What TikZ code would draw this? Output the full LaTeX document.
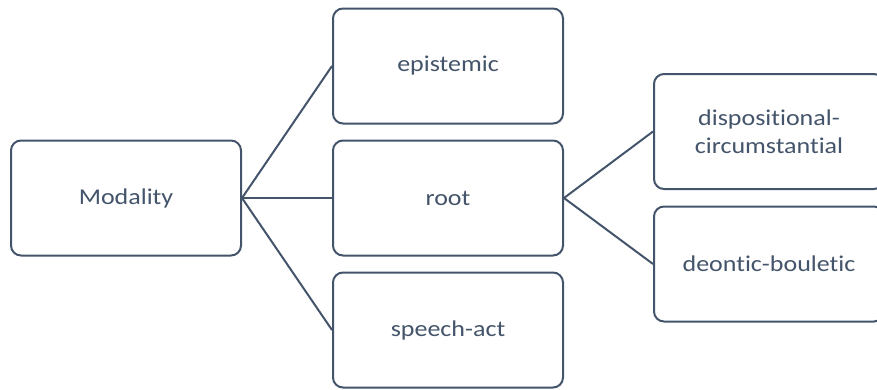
\documentclass[tikz,border=0pt]{standalone}
\usepackage{fontspec}
\setmainfont{Carlito}[FakeStretch=1.15, Ligatures=NoCommon]
\definecolor{slate}{HTML}{44546A}
\begin{document}
\begin{tikzpicture}[x=1pt,y=-1pt,
  box/.style={draw=slate, line width=2pt, rounded corners=10pt, fill=white,
    minimum width=230pt, minimum height=115pt, inner sep=0pt,
    text=slate, align=center, font=\fontsize{22.6}{27.6}\selectfont},
  link/.style={draw=slate, line width=2pt}]
  \useasboundingbox (0,0) rectangle (877,389);
  \clip (0,0) rectangle (877,389);
  \node[box] (mod) at (126,198) {Modality};
  \node[box] (epi) at (448,66) {epistemic};
  \node[box] (root) at (448,198) {root};
  \node[box] (sp) at (448,330) {speech-act};
  \node[box] (disp) at (769,131.5) {dispositional-\\circumstantial};
  \node[box] (deon) at (769,264) {deontic-bouletic};
  \draw[link] (mod.east) -- (epi.west);
  \draw[link] (mod.east) -- (root.west);
  \draw[link] (mod.east) -- (sp.west);
  \draw[link] (root.east) -- (disp.west);
  \draw[link] (root.east) -- (deon.west);
\end{tikzpicture}
\end{document}
